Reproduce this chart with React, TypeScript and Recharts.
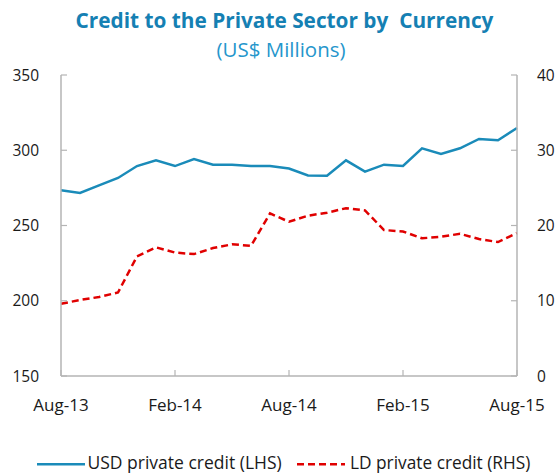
import React from "react";
import { LineChart, Line, XAxis, YAxis } from "recharts";

const months = [
  "Aug-13", "Sep-13", "Oct-13", "Nov-13", "Dec-13", "Jan-14", "Feb-14", "Mar-14", "Apr-14",
  "May-14", "Jun-14", "Jul-14", "Aug-14", "Sep-14", "Oct-14", "Nov-14", "Dec-14", "Jan-15",
  "Feb-15", "Mar-15", "Apr-15", "May-15", "Jun-15", "Jul-15", "Aug-15",
];

const usdCredit = [
  273.4, 271.6, 276.7, 281.6, 289.5, 293.3, 289.5, 294.2, 290.4, 290.4, 289.6, 289.5, 287.9,
  283.2, 283.1, 293.3, 285.8, 290.4, 289.6, 301.3, 297.5, 301.3, 307.5, 306.6, 314.8,
];

const ldCredit = [
  9.6, 10.1, 10.5, 11.1, 15.9, 17.1, 16.4, 16.2, 17.0, 17.5, 17.3, 21.6, 20.5,
  21.3, 21.7, 22.3, 22.0, 19.4, 19.2, 18.3, 18.5, 18.9, 18.2, 17.8, 19.0,
];

const leftTicks = [150, 200, 250, 300, 350];
const rightTicks = [0, 10, 20, 30, 40];

const data = months.map((m, i) => ({ month: m, usd: usdCredit[i], ld: ldCredit[i] }));

const FONT = "'Open Sans', sans-serif";
const AXIS = "#b4b4b4";
const BLUE = "#1a8bb9";
const RED = "#e00000";

export default function App() {
  return (
    <div style={{ position: "absolute", left: 0, top: 0, width: 559, height: 474, background: "#fff" }}>
      <LineChart
        width={559}
        height={474}
        data={data}
        margin={{ top: 75, right: 0, left: 0, bottom: 58 }}
        style={{ fontFamily: FONT }}
      >
        <XAxis
          xAxisId="top"
          orientation="top"
          dataKey="month"
          height={0}
          tick={false}
          tickLine={false}
          axisLine={{ stroke: AXIS, strokeWidth: 1.5 }}
        />
        <XAxis
          dataKey="month"
          interval={5}
          height={40}
          tickSize={-6}
          tickMargin={29}
          tick={{ fontSize: 17, fill: "#1a1a1a", fontFamily: FONT }}
          tickLine={{ stroke: AXIS, strokeWidth: 1.2 }}
          axisLine={{ stroke: AXIS, strokeWidth: 1.5 }}
        />
        <YAxis
          yAxisId="left"
          orientation="left"
          width={61}
          domain={[150, 350]}
          ticks={leftTicks}
          tickSize={-6}
          tickMargin={28}
          tick={{ fontSize: 15.5, fill: "#1a1a1a", fontFamily: FONT }}
          tickLine={{ stroke: AXIS, strokeWidth: 1.2 }}
          axisLine={{ stroke: AXIS, strokeWidth: 1.5 }}
        />
        <YAxis
          yAxisId="right"
          orientation="right"
          width={42}
          domain={[0, 40]}
          ticks={rightTicks}
          tickSize={-6}
          tickMargin={26}
          tick={{ fontSize: 15.5, fill: "#1a1a1a", fontFamily: FONT }}
          tickLine={{ stroke: AXIS, strokeWidth: 1.2 }}
          axisLine={{ stroke: AXIS, strokeWidth: 1.5 }}
        />
        <Line
          yAxisId="left"
          type="linear"
          dataKey="usd"
          stroke={BLUE}
          strokeWidth={2.5}
          dot={false}
          isAnimationActive={false}
        />
        <Line
          yAxisId="right"
          type="linear"
          dataKey="ld"
          stroke={RED}
          strokeWidth={2.5}
          strokeDasharray="7 4"
          dot={false}
          isAnimationActive={false}
        />
      </LineChart>
      <svg
        width={559}
        height={474}
        style={{ position: "absolute", left: 0, top: 0, pointerEvents: "none", fontFamily: FONT }}
      >
        <text x={284.5} y={28.3} textAnchor="middle" fontSize={20.8} fontWeight={700} fill="#1580b3" style={{ whiteSpace: "pre" }}>
          {"Credit to the Private Sector by  Currency"}
        </text>
        <text x={281} y={56.7} textAnchor="middle" fontSize={20.5} fill="#2596cc">
          (US$ Millions)
        </text>
        <line x1={37} y1={464.3} x2={85} y2={464.3} stroke={BLUE} strokeWidth={2.5} />
        <text x={87.5} y={469.3} fontSize={17.5} fill="#1a1a1a">USD private credit (LHS)</text>
        <line x1={297} y1={464.3} x2={345} y2={464.3} stroke={RED} strokeWidth={2.5} strokeDasharray="7 4" />
        <text x={350} y={469.3} fontSize={17.3} fill="#1a1a1a">LD private credit (RHS)</text>
      </svg>
    </div>
  );
}
